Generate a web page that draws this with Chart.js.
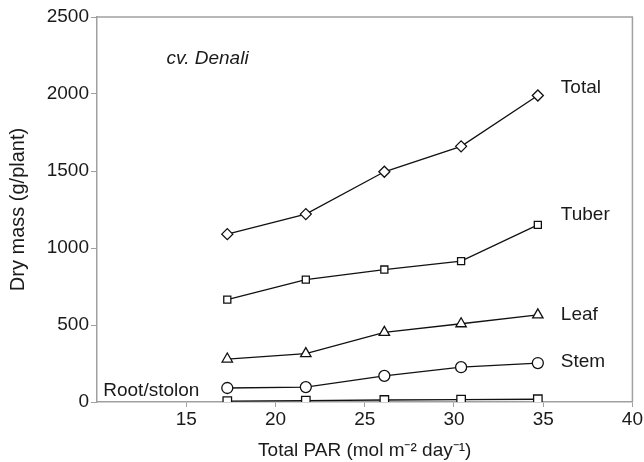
<!DOCTYPE html>
<html>
<head>
<meta charset="utf-8">
<script src="https://cdn.jsdelivr.net/npm/chart.js@4"></script>
<style>
  html, body { margin: 0; padding: 0; background: #fff; }
  #wrap { width: 644px; height: 462px; }
</style>
</head>
<body>
<div id="wrap"><canvas id="massChart"></canvas></div>
<script>
// PAR levels (mol m-2 day-1)
const parLevels = [17.3, 21.7, 26.1, 30.4, 34.7];

// dry mass per organ (g/plant)
const totalMass = [1090, 1220, 1495, 1660, 1990];
const tuberMass = [665, 795, 860, 915, 1150];
const leafMass = [279, 314, 452, 508, 566];
const stemMass = [91, 97, 170, 226, 253];
const rootMass = [6, 9, 13, 15, 18];

const seriesNames = ['Total', 'Tuber', 'Leaf', 'Stem', 'Root/stolon'];
const xTicks = [15, 20, 25, 30, 35, 40];
const yTicks = [0, 500, 1000, 1500, 2000, 2500];

const axisGrey = '#a0a0a0';
const font = 'Liberation Sans, Arial, sans-serif';

function toPoints(vals) {
    return parLevels.map((x, i) => ({ x: x, y: vals[i] }));
}

function series(name, vals, style, radius) {
    return {
        label: name,
        data: toPoints(vals),
        borderColor: '#111',
        borderWidth: 1.3,
        backgroundColor: '#fff',
        pointStyle: style,
        pointRadius: radius,
        pointBorderWidth: 1.3,
        pointBorderColor: '#111',
        pointBackgroundColor: '#fff',
        tension: 0
    };
}

// box round the plot area plus text labels beside the lines
const decorations = {
    id: 'decorations',
    afterDatasetsDraw(chart) {
        const { ctx, chartArea, scales } = chart;
        ctx.save();
        ctx.strokeStyle = axisGrey;
        ctx.lineWidth = 1.5;
        ctx.beginPath();
        ctx.moveTo(chartArea.left, chartArea.top);
        ctx.lineTo(chartArea.right, chartArea.top);
        ctx.lineTo(chartArea.right, chartArea.bottom);
        ctx.stroke();

        ctx.fillStyle = '#1a1a1a';
        ctx.font = '19px ' + font;
        ctx.textBaseline = 'middle';
        ctx.textAlign = 'left';
        const lastX = scales.x.getPixelForValue(parLevels[parLevels.length - 1]);
        const shifts = [-8, -10, 0, -1];
        chart.data.datasets.forEach((ds, i) => {
            if (i === 4) return;
            const y = scales.y.getPixelForValue(ds.data[ds.data.length - 1].y);
            ctx.fillText(ds.label, lastX + 23, y + shifts[i]);
        });
        // Root/stolon label sits at the left
        ctx.fillText(seriesNames[4], scales.x.getPixelForValue(10.35), scales.y.getPixelForValue(70));

        ctx.font = 'italic 19px ' + font;
        ctx.fillText('cv. Denali', scales.x.getPixelForValue(13.9), scales.y.getPixelForValue(2230));
        ctx.restore();
    }
};

const ctx = document.getElementById('massChart').getContext('2d');
new Chart(ctx, {
    type: 'line',
    data: {
        datasets: [
            series(seriesNames[0], totalMass, 'rectRot', 5.5),
            series(seriesNames[1], tuberMass, 'rect', 5),
            series(seriesNames[2], leafMass, 'triangle', 6),
            series(seriesNames[3], stemMass, 'circle', 5.5),
            series(seriesNames[4], rootMass, 'rect', 6)
        ]
    },
    options: {
        responsive: true,
        maintainAspectRatio: false,
        animation: false,
        layout: { padding: { top: 17, right: 8, left: 0, bottom: 0 } },
        plugins: {
            legend: { display: false },
            tooltip: { enabled: false }
        },
        scales: {
            x: {
                type: 'linear',
                min: 10,
                max: 40,
                afterBuildTicks: s => { s.ticks = xTicks.map(v => ({ value: v })); },
                afterFit: s => { s.height = 60; },
                border: { color: axisGrey, width: 1.5 },
                grid: { display: true, drawOnChartArea: false, drawTicks: true, tickLength: 5, color: axisGrey },
                ticks: { color: '#1a1a1a', font: { family: font, size: 19 }, padding: 1, callback: v => String(v) },
                title: {
                    display: true,
                    text: 'Total PAR (mol m⁻² day⁻¹)',
                    color: '#1a1a1a',
                    font: { family: font, size: 19 },
                    padding: { top: 4, bottom: 0 }
                }
            },
            y: {
                type: 'linear',
                min: 0,
                max: 2500,
                afterBuildTicks: s => { s.ticks = yTicks.map(v => ({ value: v })); },
                afterFit: s => { s.width = 97; },
                border: { color: axisGrey, width: 1.5 },
                grid: { display: true, drawOnChartArea: false, drawTicks: true, tickLength: 6, color: axisGrey },
                ticks: { color: '#1a1a1a', font: { family: font, size: 19 }, padding: 2, callback: v => String(v) },
                title: {
                    display: true,
                    text: 'Dry mass (g/plant)',
                    color: '#1a1a1a',
                    font: { family: font, size: 20 },
                    padding: { top: 6, bottom: 0 }
                }
            }
        }
    },
    plugins: [decorations]
});
</script>
</body>
</html>
